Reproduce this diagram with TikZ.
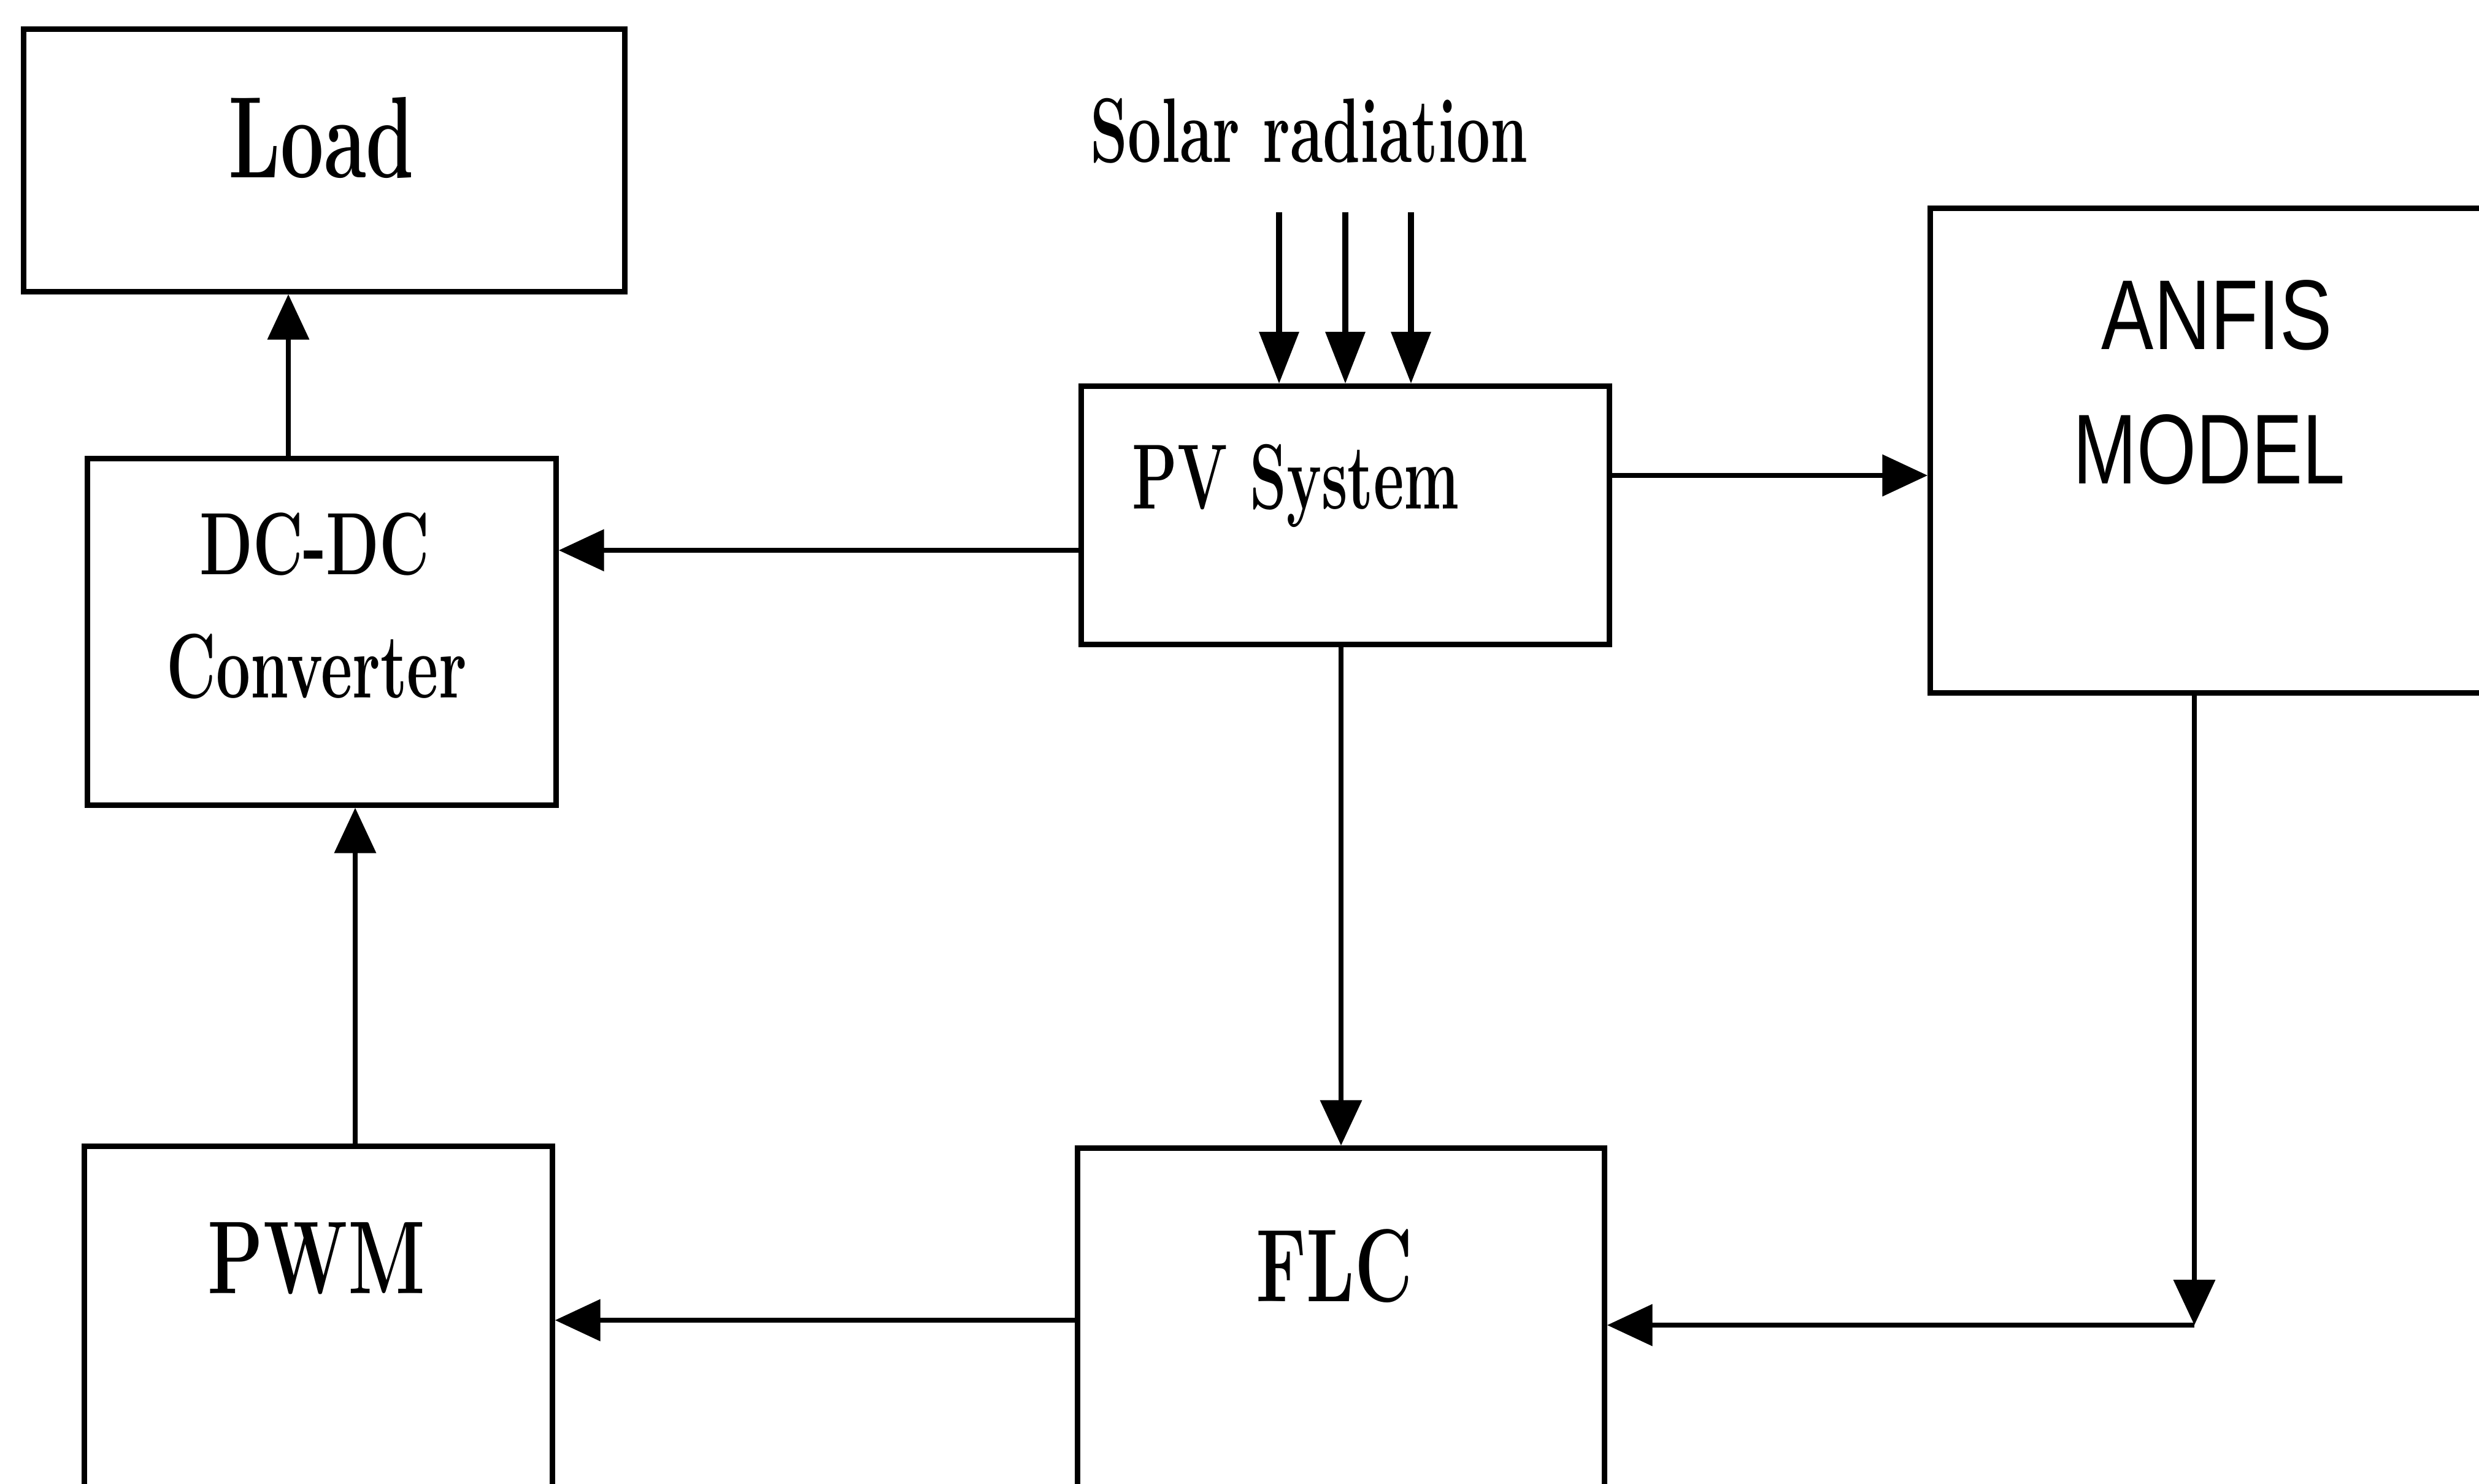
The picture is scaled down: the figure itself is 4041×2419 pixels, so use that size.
\documentclass[tikz,border=0pt]{standalone}
\usepackage{fontspec}
\usepackage{graphicx}
\newfontfamily\anfisfont{Liberation Sans}
\usetikzlibrary{arrows.meta}
\newcommand\sxt[3]{{\fontsize{#1pt}{#1pt}\selectfont\scalebox{#2}[1]{#3}}}
\tikzset{
  blk/.style={draw=black, line width=2.6pt, inner sep=0pt, fill=none},
  arr/.style={line width=2.2pt, -{Triangle[length=21pt,width=19pt]}},
  sarr/.style={line width=2.6pt, -{Triangle[length=24pt,width=18pt]}},
  lbl/.style={inner sep=0pt, anchor=base, text=black},
  slbl/.style={lbl, font=\bfseries}
}
\begin{document}
\begin{tikzpicture}[x=0.01cm, y=-0.01cm]
\useasboundingbox (0,0) rectangle (4041,2419);
\fill[white] (0,0) rectangle (4041,2419);
\clip (0,0) rectangle (4041,2419);

% boxes
\node[blk, minimum width=9.79cm, minimum height=4.27cm] (load) at (528.5,261.5) {};
\node[blk, minimum width=7.63cm, minimum height=5.64cm] (dcdc) at (524.5,1030) {};
\node[blk, minimum width=8.60cm, minimum height=4.20cm] (pv) at (2193,840) {};
\node[blk, minimum width=10.53cm, minimum height=7.89cm] (anfis) at (3673.5,734.5) {};
\node[blk, minimum width=7.62cm, minimum height=6.31cm] (pwm) at (519,2184.5) {};
\node[blk, minimum width=8.58cm, minimum height=6.28cm] (flc) at (2186,2186) {};

% texts
\node[slbl] (tload) at (524,290) {\sxt{53.7}{0.665}{Load}};
\node[slbl] (tdc) at (513,937) {\sxt{41}{0.70}{DC-DC}};
\node[slbl] (tconv) at (516,1138) {\sxt{42.5}{0.666}{Converter}};
\node[slbl] (tpv) at (2112,830) {\sxt{42.9}{0.637}{PV System}};
\node[slbl] (tsolar) at (2134,265) {\sxt{42.5}{0.653}{Solar radiation}};
\node[slbl] (tpwm) at (516,2108) {\sxt{48}{0.70}{PWM}};
\node[slbl] (tflc) at (2175,2121) {\sxt{48}{0.69}{FLC}};
\node[lbl] (tanfis) at (3614,570) {\anfisfont\sxt{46}{0.79}{ANFIS}};
\node[lbl] (tmodel) at (3601,789) {\anfisfont\sxt{46}{0.77}{MODEL}};

% coordinates for connector positions
\coordinate (xa) at (470,0);
\coordinate (ya) at (0,897);
\coordinate (yb) at (0,775);
\coordinate (xb) at (2186,0);
\coordinate (xc) at (579,0);
\coordinate (yc) at (0,2152);
\coordinate (xd) at (3577,0);
\coordinate (corner) at (3577,2160);
\coordinate (s1) at (2085,346);
\coordinate (s2) at (2193,346);
\coordinate (s3) at (2300,346);

% connectors
\draw[arr] (dcdc.north -| xa) -- (load.south -| xa);
\draw[arr] (pv.west |- ya) -- (dcdc.east |- ya);
\draw[arr] (pv.east |- yb) -- (anfis.west |- yb);
\draw[arr] (pv.south -| xb) -- (flc.north -| xb);
\draw[arr] (pwm.north -| xc) -- (dcdc.south -| xc);
\draw[arr] (flc.west |- yc) -- (pwm.east |- yc);
\draw[arr] (anfis.south -| xd) -- (corner);
\draw[arr] (corner) -- (flc.east |- corner);
\draw[sarr] (s1) -- (pv.north -| s1);
\draw[sarr] (s2) -- (pv.north -| s2);
\draw[sarr] (s3) -- (pv.north -| s3);
\end{tikzpicture}
\end{document}
